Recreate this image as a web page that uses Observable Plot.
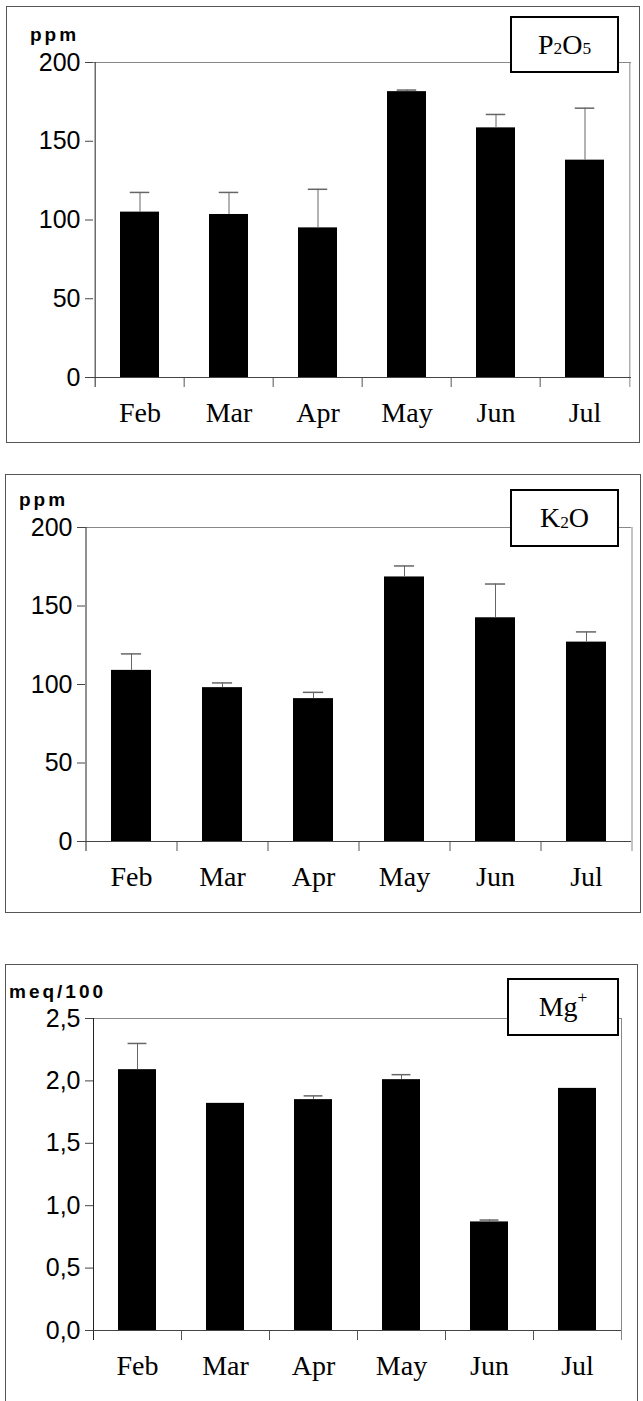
<!DOCTYPE html>
<html><head><meta charset="utf-8">
<script src="https://cdn.jsdelivr.net/npm/d3@7"></script>
<script src="https://cdn.jsdelivr.net/npm/@observablehq/plot@0.6"></script>
<style>
html,body{margin:0;padding:0;background:#fff;}
body{width:643px;height:1401px;position:relative;overflow:hidden;}
.frame{position:absolute;border:1px solid #555;box-sizing:border-box;}
.svgwrap{position:absolute;left:0;}
.unit{position:absolute;font-family:"Liberation Sans",Arial,sans-serif;font-weight:bold;font-size:19px;letter-spacing:3px;line-height:19px;color:#000;white-space:nowrap;}
.tbox{position:absolute;border:2.5px solid #000;background:#fff;box-sizing:border-box;font-family:"Liberation Serif","Times New Roman",serif;font-size:28px;display:flex;align-items:center;justify-content:center;color:#000;line-height:1;}
.tbox sub{font-size:0.62em;position:relative;top:0.25em;vertical-align:baseline;}
.tbox sup{font-size:0.62em;position:relative;top:-0.55em;vertical-align:baseline;}
</style>
</head><body>
<script>
const months = ["Feb", "Mar", "Apr", "May", "Jun", "Jul"];

const p2o5Mean  = [105, 103.5, 95, 181.5, 158.5, 138];
const p2o5Upper = [117.5, 117.5, 119.5, 182.5, 167, 171];

const k2oMean  = [109, 98, 91, 168.5, 142.5, 127];
const k2oUpper = [119.5, 101, 95, 175.5, 164, 133.5];

const mgMean  = [2.09, 1.82, 1.85, 2.01, 0.87, 1.94];
const mgUpper = [2.30, null, 1.88, 2.05, 0.885, null];

const ppmTicks = [0, 50, 100, 150, 200];
const mgTicks = [0, 0.5, 1.0, 1.5, 2.0, 2.5];

const panels = [
  {mean: p2o5Mean, upper: p2o5Upper, ticks: ppmTicks, domain: [0, 200], fmt: d3.format("d"),
   top: 0, height: 450, ml: 93, mr: 12, mt: 62, mb: 73,
   frame: {left: 6, top: 6, width: 634, height: 437},
   unit: {text: "ppm", left: 30, top: 25},
   title: {html: "P<sub>2</sub>O<sub>5</sub>", left: 510, top: 16, width: 109, height: 57}},
  {mean: k2oMean, upper: k2oUpper, ticks: ppmTicks, domain: [0, 200], fmt: d3.format("d"),
   top: 460, height: 460, ml: 85, mr: 12, mt: 67, mb: 79,
   frame: {left: 5, top: 474, width: 636, height: 439},
   unit: {text: "ppm", left: 19, top: 490},
   title: {html: "K<sub>2</sub>O", left: 510, top: 489, width: 109, height: 58}},
  {mean: mgMean, upper: mgUpper, ticks: mgTicks, domain: [0, 2.5], fmt: d => d3.format(".1f")(d).replace(".", ","),
   top: 930, height: 471, ml: 93, mr: 22, mt: 88, mb: 71,
   frame: {left: 5, top: 964, width: 633, height: 480},
   unit: {text: "meq/100", left: 9, top: 982},
   title: {html: "Mg<sup>+</sup>", left: 507, top: 978, width: 112, height: 58}}
];

function chart(c) {
  const data = months.map((m, i) => ({month: m, value: c.mean[i], upper: c.upper[i]}));
  const errs = data.filter(d => d.upper != null);
  const width = 643;
  const step = (width - c.ml - c.mr) / months.length;
  const plotH = c.height - c.mt - c.mb;
  const pad = 0.565;
  const bw = step * (1 - pad);
  return Plot.plot({
    width, height: c.height,
    marginLeft: c.ml, marginRight: c.mr, marginTop: c.mt, marginBottom: c.mb,
    style: {background: "transparent", fontFamily: "Liberation Sans, Arial, sans-serif", overflow: "visible", color: "#000"},
    x: {domain: months, paddingInner: pad, paddingOuter: pad / 2, align: 0.5, axis: null},
    y: {domain: c.domain, label: null},
    marks: [
      Plot.ruleY([c.domain[1]], {stroke: "#888", strokeWidth: 1}),
      Plot.barY(data, {x: "month", y: "value", fill: "#000"}),
      Plot.ruleX(errs, {x: "month", y1: "value", y2: "upper", stroke: "#666", strokeWidth: 1}),
      Plot.tickY(errs, {x: "month", y: "upper", stroke: "#666", strokeWidth: 1.5, insetLeft: bw / 4, insetRight: bw / 4}),
      Plot.ruleX(months.slice(1), {x: d => d, dx: -step / 2, insetTop: plotH, insetBottom: -10, stroke: "#555"}),
      Plot.ruleX([months[0]], {x: d => d, dx: -step / 2, insetBottom: -10, stroke: "#222"}),
      Plot.ruleX([months[months.length - 1]], {x: d => d, dx: step / 2, insetBottom: -10, stroke: "#888"}),
      Plot.ruleY([0], {stroke: "#444"}),
      Plot.axisY({ticks: c.ticks, tickFormat: c.fmt, tickSize: 8, tickPadding: 5, fontSize: 25, stroke: "#444", fill: "#000"}),
      Plot.text(months, {x: d => d, frameAnchor: "bottom", dy: 44, text: d => d, fontSize: 28,
        fontFamily: "Liberation Serif, Times New Roman, serif", fill: "#000"})
    ]
  });
}

for (const c of panels) {
  const f = document.createElement("div");
  f.className = "frame";
  Object.assign(f.style, {left: c.frame.left + "px", top: c.frame.top + "px", width: c.frame.width + "px", height: c.frame.height + "px"});
  document.body.appendChild(f);

  const w = document.createElement("div");
  w.className = "svgwrap";
  w.style.top = c.top + "px";
  w.appendChild(chart(c));
  document.body.appendChild(w);

  const u = document.createElement("div");
  u.className = "unit";
  u.textContent = c.unit.text;
  Object.assign(u.style, {left: c.unit.left + "px", top: c.unit.top + "px"});
  document.body.appendChild(u);

  const t = document.createElement("div");
  t.className = "tbox";
  t.innerHTML = c.title.html;
  Object.assign(t.style, {left: c.title.left + "px", top: c.title.top + "px", width: c.title.width + "px", height: c.title.height + "px"});
  document.body.appendChild(t);
}
</script>
</body></html>
